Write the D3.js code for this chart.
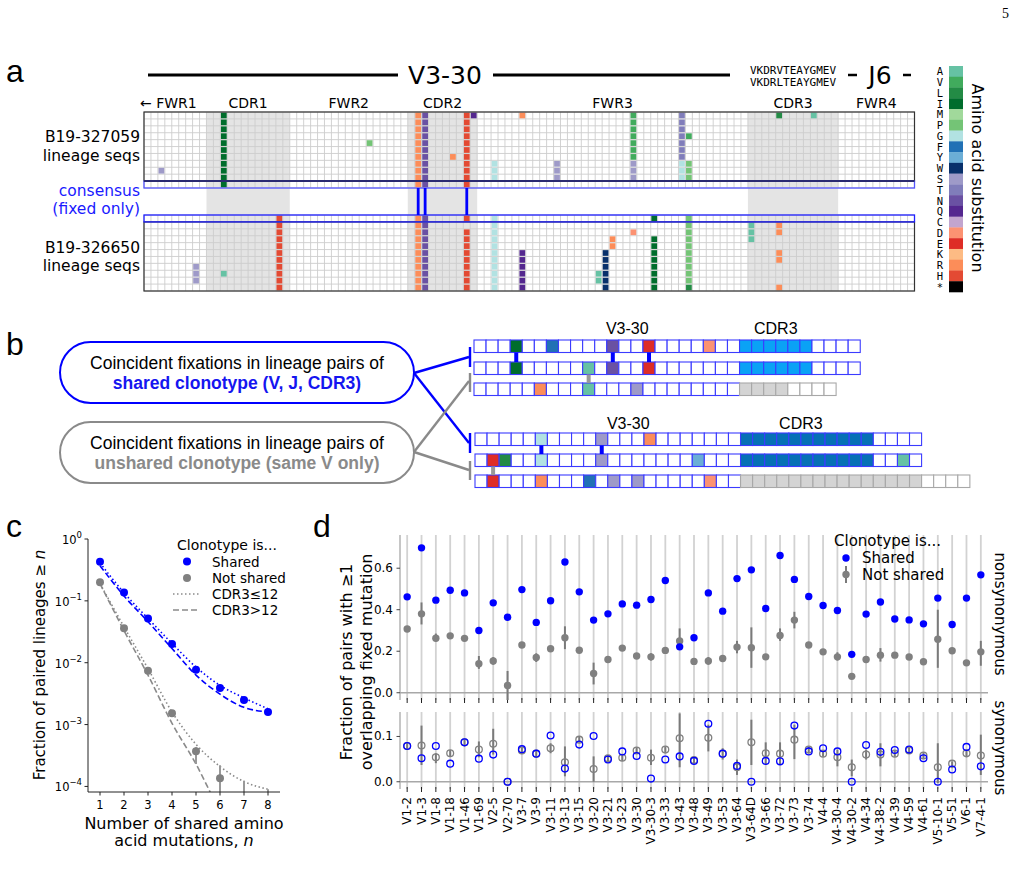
<!DOCTYPE html>
<html>
<head>
<meta charset="utf-8">
<script src="https://cdn.jsdelivr.net/npm/d3@7"></script>
<style>
  body { margin: 0; background: #fff; }
</style>
</head>
<body>
<svg id="fig" width="1023" height="896"></svg>
<script>
// ---------------- data ----------------
var aaLetters = ["A","V","L","I","M","P","G","F","Y","W","S","T","N","Q","C","D","E","K","R","H","*"];
var aaColors = ["#66c2a4","#41ab5d","#238b45","#006d2c","#a1d99b","#74c476","#b2e2e2","#2171b5","#6baed6","#08306b",
                "#9e9ac8","#807dba","#6a51a3","#54278f","#c2a5cf","#fc9272","#de2d26","#fdbb84","#fc8d59","#e34a33","#000000"];

// panel a : alignment columns and regions
var nCols = 111;
var regionNames = ["← FWR1","CDR1","FWR2","CDR2","FWR3","CDR3","FWR4"];
var regionStart = [0, 9, 21, 38, 48, 87, 100];
var regionEnd   = [9, 21, 38, 48, 87, 100, 111];
var cdrRegions = [1, 3, 5];
var lineageNames = ["B19-327059", "B19-326650"];
var cdr3Seqs = ["VKDRVTEAYGMEV", "VKDRLTEAYGMEV"];
// [column, first row, last row, amino acid]; top block rows 0-9 = seqs, row 10 = consensus
var mutsTop = [[2,8,8,"S"],[11,0,10,"I"],[32,4,4,"P"],[39,0,10,"R"],[40,0,10,"N"],[44,6,6,"R"],[46,0,10,"H"],
  [47,0,0,"Q"],[50,7,9,"G"],[54,0,0,"R"],[59,7,9,"S"],[70,0,6,"V"],[70,7,9,"S"],[77,0,6,"T"],[77,7,9,"G"],
  [78,3,3,"V"],[78,7,9,"P"],[91,0,0,"L"],[96,0,0,"A"]];
// bottom block row 0 = consensus, rows 1-10 = seqs
var mutsBottom = [[7,7,9,"S"],[11,8,8,"A"],[19,0,10,"H"],[39,0,10,"R"],[40,0,10,"N"],[46,0,0,"H"],[46,2,10,"H"],
  [50,0,10,"G"],[54,5,10,"Q"],[65,8,9,"A"],[66,5,10,"W"],[67,3,4,"R"],[70,2,2,"D"],[73,0,0,"I"],[73,3,10,"I"],
  [78,0,9,"P"],[78,10,10,"L"],[87,1,3,"A"],[91,1,2,"R"],[91,5,6,"R"],[91,10,10,"R"]];
var fixedCols = [39, 40, 46];

// panel b : schematic sequences
var bVLen = 22, bTail = 4;
var bCdr3Len = [[6, 6, 4], [11, 11, 15]];
var bCdr3Fill = [["#0aa2f5","#0aa2f5","#d4d4d4"], ["#0670b5","#0670b5","#d4d4d4"]];
var bMuts = [
  [[[3,"I"],[6,"F"],[11,"N"],[14,"E"],[19,"D"]], [[3,"I"],[9,"A"],[11,"N"],[14,"E"]], [[5,"R"],[9,"A"],[13,"S"]]],
  [[[5,"G"],[10,"S"],[14,"R"]], [[1,"E"],[2,"L"],[5,"G"],[10,"S"],[18,"Y"],[35,"A"]], [[1,"E"],[5,"R"],[9,"F"],[11,"S"],[13,"S"],[19,"D"]]]
];
var bLinks = [
  {g: 0, rows: [0, 1], cols: [3, 11, 14], shared: true},
  {g: 0, rows: [1, 2], cols: [9], shared: false},
  {g: 1, rows: [0, 1], cols: [5, 10], shared: true},
  {g: 1, rows: [1, 2], cols: [1], shared: false}
];

// panel c
var nShared = [1, 2, 3, 4, 5, 6, 7, 8];
var fracShared = [0.43, 0.137, 0.052, 0.020, 0.0077, 0.0039, 0.0025, 0.0016];
var fracNotShared = [0.20, 0.036, 0.0074, 0.00153, 0.00037, 0.000135, 0.00003, 0.00002];
var fracNotLo = [0.20, 0.036, 0.0074, 0.0014, 0.00023, 0.00005, 0.00002, 0.00001];
var fracNotHi = [0.20, 0.036, 0.0074, 0.0017, 0.00043, 0.00022, 0.000124, 0.00009];
var fitSharedShort = [0.41, 0.135, 0.052, 0.0205, 0.0085, 0.0043, 0.0027, 0.0018];
var fitSharedLong  = [0.37, 0.12, 0.046, 0.017, 0.0063, 0.0031, 0.0019, 0.0016];
var fitNotShort    = [0.19, 0.038, 0.0080, 0.0016, 0.00048, 0.00021, 0.00012, 0.00009];
var fitNotLong     = [0.19, 0.033, 0.0063, 0.00105, 0.00023, 0.00004, 0.00001, 0.000003];
var cYTicks = [1, 0.1, 0.01, 0.001, 0.0001];
var cYExp = ["0", "−1", "−2", "−3", "−4"];

// panel d
var genes = ["V1-2","V1-3","V1-8","V1-18","V1-46","V1-69","V2-5","V2-70","V3-7","V3-9","V3-11","V3-13","V3-15",
  "V3-20","V3-21","V3-23","V3-30","V3-30-3","V3-33","V3-43","V3-48","V3-49","V3-53","V3-64","V3-64D","V3-66",
  "V3-72","V3-73","V3-74","V4-4","V4-30-4","V4-30-2","V4-34","V4-38-2","V4-39","V4-59","V4-61","V5-10-1","V5-51","V6-1","V7-4-1"];
var nonsynShared = [0.462,0.698,0.446,0.494,0.481,0.300,0.433,0.364,0.497,0.339,0.443,0.630,0.486,0.350,0.380,
  0.428,0.422,0.449,0.541,0.221,0.265,0.481,0.393,0.550,0.592,0.406,0.661,0.546,0.464,0.420,0.396,0.185,0.379,
  0.437,0.355,0.351,0.332,0.456,0.329,0.456,0.568];
var nonsynNot = [0.307,0.380,0.263,0.274,0.262,0.140,0.153,0.035,0.230,0.170,0.212,0.265,0.205,0.093,0.160,
  0.215,0.177,0.173,0.204,0.249,0.151,0.153,0.165,0.220,0.217,0.173,0.276,0.350,0.230,0.197,0.173,0.079,0.160,
  0.181,0.181,0.172,0.149,0.258,0.202,0.144,0.197];
var nonsynNotLo = [0.295,0.329,0.245,0.262,0.250,0.115,0.135,-0.04,0.218,0.148,0.200,0.210,0.193,0.040,0.148,
  0.203,0.165,0.155,0.192,0.210,0.140,0.135,0.152,0.190,0.120,0.160,0.250,0.310,0.218,0.185,0.155,0.068,0.148,
  0.150,0.169,0.160,0.137,0.120,0.190,0.132,0.130];
var nonsynNotHi = [0.320,0.435,0.285,0.286,0.275,0.177,0.172,0.105,0.242,0.190,0.224,0.320,0.217,0.145,0.172,
  0.227,0.190,0.190,0.216,0.310,0.163,0.172,0.178,0.250,0.315,0.186,0.310,0.390,0.242,0.209,0.195,0.090,0.172,
  0.215,0.193,0.184,0.161,0.400,0.214,0.156,0.250];
var synShared = [0.079,0.052,0.079,0.040,0.087,0.051,0.060,0.000,0.072,0.062,0.102,0.029,0.082,0.101,0.049,
  0.067,0.057,0.007,0.049,0.056,0.046,0.128,0.062,0.035,0.000,0.046,0.045,0.124,0.067,0.074,0.067,0.000,0.081,
  0.066,0.070,0.071,0.052,0.000,0.027,0.077,0.034];
var synNot = [0.079,0.080,0.054,0.063,0.087,0.071,0.084,0.000,0.069,0.062,0.074,0.043,0.093,0.028,0.052,
  0.053,0.069,0.053,0.071,0.096,0.048,0.097,0.062,0.032,0.087,0.063,0.062,0.093,0.071,0.062,0.054,0.032,0.060,
  0.060,0.062,0.069,0.058,0.032,0.040,0.063,0.058];
var synNotLo = [0.072,0.037,0.041,0.056,0.080,0.054,0.060,0.000,0.062,0.055,0.063,0.012,0.086,0.000,0.045,
  0.046,0.062,0.037,0.064,0.032,0.041,0.067,0.049,0.015,0.037,0.037,0.037,0.050,0.064,0.055,0.034,0.012,0.049,
  0.034,0.055,0.062,0.051,-0.003,0.030,0.054,0.015];
var synNotHi = [0.086,0.124,0.063,0.070,0.094,0.089,0.117,0.000,0.076,0.069,0.085,0.078,0.100,0.056,0.059,
  0.060,0.076,0.071,0.078,0.151,0.055,0.126,0.074,0.049,0.137,0.087,0.087,0.126,0.078,0.069,0.071,0.049,0.071,
  0.085,0.069,0.076,0.065,0.085,0.045,0.071,0.104];

// ---------------- drawing ----------------
var svg = d3.select("#fig");
var mpl = "'DejaVu Sans', sans-serif";
var helv = "'Liberation Sans', Arial, sans-serif";
var mono = "'DejaVu Sans Mono', monospace";
var blue = "#0000ff";
var grey = "#808080";
var aaColor = d3.scaleOrdinal().domain(aaLetters).range(aaColors);

function txt(g, x, y, s, size, opts) {
  opts = opts || {};
  var t = g.append("text").attr("x", x).attr("y", y)
    .attr("font-family", opts.family || mpl).attr("font-size", size)
    .attr("fill", opts.fill || "#000")
    .attr("text-anchor", opts.anchor || "start")
    .attr("dominant-baseline", opts.baseline || "central");
  if (opts.weight) t.attr("font-weight", opts.weight);
  if (opts.rotate !== undefined) t.attr("transform", "rotate(" + opts.rotate + "," + x + "," + y + ")");
  t.text(s);
  return t;
}

// page number and panel letters
txt(svg, 1009, 13, "5", 14, {family: "'Liberation Serif', serif", anchor: "end"});
[["a", 6, 82], ["b", 6, 355], ["c", 6, 537], ["d", 313, 537]].forEach(function (d) {
  txt(svg, d[1], d[2], d[0], 32, {family: helv, baseline: "auto"});
});

// ============ panel a ============
var gA = svg.append("g");
var colX = d3.scaleBand().domain(d3.range(nCols)).range([144, 914.5]);
var bw = colX.bandwidth();
var rowTop = d3.scaleBand().domain(d3.range(11)).range([112, 188]);
var rowBot = d3.scaleBand().domain(d3.range(11)).range([215, 291]);
var rh = rowTop.bandwidth();

// CDR shading over full height
gA.selectAll("rect.cdr").data(cdrRegions).enter().append("rect")
  .attr("x", function (i) { return colX(regionStart[i]); })
  .attr("width", function (i) { return colX(regionEnd[i]) - colX(regionStart[i]); })
  .attr("y", 112).attr("height", 179).attr("fill", "#e4e4e4");

// grid lines for each block
[rowTop, rowBot].forEach(function (ry) {
  var y0 = ry.range()[0], y1 = ry.range()[1];
  var g = gA.append("g").attr("stroke", "#cdcdcd").attr("stroke-width", 0.9);
  g.selectAll("line.v").data(d3.range(nCols + 1)).enter().append("line")
    .attr("x1", function (c) { return 144 + c * bw; }).attr("x2", function (c) { return 144 + c * bw; })
    .attr("y1", y0).attr("y2", y1);
  g.selectAll("line.h").data(d3.range(12)).enter().append("line")
    .attr("x1", 144).attr("x2", 914.5)
    .attr("y1", function (r) { return y0 + r * rh; }).attr("y2", function (r) { return y0 + r * rh; });
});

function expand(list) {
  var out = [];
  list.forEach(function (m) {
    d3.range(m[1], m[2] + 1).forEach(function (r) { out.push({c: m[0], r: r, aa: m[3]}); });
  });
  return out;
}
[[mutsTop, rowTop], [mutsBottom, rowBot]].forEach(function (pair) {
  gA.append("g").selectAll("rect").data(expand(pair[0])).enter().append("rect")
    .attr("x", function (d) { return colX(d.c) + 0.6; })
    .attr("y", function (d) { return pair[1](d.r) + 0.6; })
    .attr("width", bw - 1.2).attr("height", rh - 1.2)
    .attr("fill", function (d) { return aaColor(d.aa); });
});

// block borders
gA.append("rect").attr("x", 144).attr("y", 112).attr("width", 770.5).attr("height", rowTop(10) - 112)
  .attr("fill", "none").attr("stroke", "#333").attr("stroke-width", 1.2);
gA.append("rect").attr("x", 144).attr("y", rowBot(1)).attr("width", 770.5).attr("height", 291 - rowBot(1))
  .attr("fill", "none").attr("stroke", "#333").attr("stroke-width", 1.2);
gA.append("rect").attr("x", 144).attr("y", rowTop(10)).attr("width", 770.5).attr("height", rh)
  .attr("fill", "none").attr("stroke", "#5555ff").attr("stroke-width", 1.3);
gA.append("line").attr("x1", 144).attr("x2", 914.5).attr("y1", rowTop(10)).attr("y2", rowTop(10))
  .attr("stroke", "#2a2a72").attr("stroke-width", 2);
gA.append("rect").attr("x", 144).attr("y", rowBot(0)).attr("width", 770.5).attr("height", rh)
  .attr("fill", "none").attr("stroke", "#2020ff").attr("stroke-width", 1.3);

// fixed shared mutations connecting consensus rows
gA.selectAll("rect.fix").data(fixedCols).enter().append("rect")
  .attr("x", function (c) { return colX(c) + bw / 2 - 1.4; }).attr("width", 2.8)
  .attr("y", 188).attr("height", 27).attr("fill", blue);

// region labels
regionNames.forEach(function (name, i) {
  if (i === 0) txt(gA, 140, 103, name, 14);
  else txt(gA, (colX(regionStart[i]) + colX(regionEnd[i] - 1) + bw) / 2, 103, name, 14, {anchor: "middle"});
});

// gene header lines
gA.append("line").attr("x1", 148).attr("x2", 398).attr("y1", 75).attr("y2", 75).attr("stroke", "#000").attr("stroke-width", 3);
gA.append("line").attr("x1", 493).attr("x2", 730).attr("y1", 75).attr("y2", 75).attr("stroke", "#000").attr("stroke-width", 3);
txt(gA, 445, 75, "V3-30", 25, {anchor: "middle"});
txt(gA, 793, 70.5, cdr3Seqs[0], 11, {family: mono, anchor: "middle"});
txt(gA, 793, 82, cdr3Seqs[1], 11, {family: mono, anchor: "middle"});
gA.append("line").attr("x1", 848).attr("x2", 857).attr("y1", 75).attr("y2", 75).attr("stroke", "#000").attr("stroke-width", 2.5);
gA.append("line").attr("x1", 903).attr("x2", 911).attr("y1", 75).attr("y2", 75).attr("stroke", "#000").attr("stroke-width", 2.5);
txt(gA, 880, 75, "J6", 25, {anchor: "middle"});

// row labels
txt(gA, 140, 137, lineageNames[0], 15.5, {anchor: "end"});
txt(gA, 140, 156, "lineage seqs", 15.5, {anchor: "end"});
txt(gA, 140, 191, "consensus", 15.5, {anchor: "end", fill: "#1a1aff"});
txt(gA, 140, 209, "(fixed only)", 15.5, {anchor: "end", fill: "#1a1aff"});
txt(gA, 140, 248, lineageNames[1], 15.5, {anchor: "end"});
txt(gA, 140, 266, "lineage seqs", 15.5, {anchor: "end"});

// colour bar legend
var cbY = d3.scaleBand().domain(aaLetters).range([66, 292]);
gA.selectAll("rect.cb").data(aaLetters).enter().append("rect")
  .attr("x", 949).attr("width", 14).attr("y", function (d) { return cbY(d); })
  .attr("height", cbY.bandwidth() + 0.3).attr("fill", function (d) { return aaColor(d); });
aaLetters.forEach(function (a) {
  txt(gA, 940, cbY(a) + cbY.bandwidth() / 2, a, 10.5, {family: mono, anchor: "middle"});
});
txt(gA, 977, 178, "Amino acid substitution", 16, {anchor: "middle", rotate: 90});

// ============ panel b ============
var gB = svg.append("g");
var bGroupX = [474, 475];
var bRowY = [[340, 362, 383], [433, 454, 475]];
var bcw = 12.07, bch = 12.5;

function bx(g, c) { return bGroupX[g] + c * bcw; }

bCdr3Len.forEach(function (lens, g) {
  lens.forEach(function (len, r) {
    var unshared = (r === 2);
    var total = bVLen + len + bTail;
    var mm = {};
    bMuts[g][r].forEach(function (m) { mm[m[0]] = m[1]; });
    var cells = d3.range(total).map(function (c) {
      var fill = "#fff";
      if (c >= bVLen && c < bVLen + len) fill = bCdr3Fill[g][r];
      if (mm[c]) fill = aaColor(mm[c]);
      var stroke = (unshared && c >= bVLen) ? "#a8a8a8" : "#3b3bff";
      return {c: c, fill: fill, stroke: stroke};
    });
    gB.append("g").selectAll("rect").data(cells).enter().append("rect")
      .attr("x", function (d) { return bx(g, d.c); }).attr("y", bRowY[g][r])
      .attr("width", bcw).attr("height", bch)
      .attr("fill", function (d) { return d.fill; })
      .attr("stroke", function (d) { return d.stroke; }).attr("stroke-width", 1.1);
  });
});

bLinks.forEach(function (L) {
  gB.append("g").selectAll("rect").data(L.cols).enter().append("rect")
    .attr("x", function (c) { return bx(L.g, c) + bcw / 2 - 2; }).attr("width", 4)
    .attr("y", bRowY[L.g][L.rows[0]] + bch).attr("height", bRowY[L.g][L.rows[1]] - bRowY[L.g][L.rows[0]] - bch)
    .attr("fill", L.shared ? blue : "#999");
});

txt(gB, bx(0, 12.7), 328, "V3-30", 16, {family: helv, anchor: "middle"});
txt(gB, bx(0, 25), 328, "CDR3", 16, {family: helv, anchor: "middle"});
txt(gB, bx(1, 12.7), 423, "V3-30", 16, {family: helv, anchor: "middle"});
txt(gB, bx(1, 27), 423, "CDR3", 16, {family: helv, anchor: "middle"});

// pills
[[342, blue, "shared clonotype (V, J, CDR3)", "#1515f0"], [422, "#8a8a8a", "unshared clonotype (same V only)", "#8a8a8a"]].forEach(function (p) {
  gB.append("rect").attr("x", 60).attr("y", p[0]).attr("width", 354).attr("height", 61).attr("rx", 30.5)
    .attr("fill", "#fff").attr("stroke", p[1]).attr("stroke-width", 2);
  txt(gB, 237, p[0] + 21, "Coincident fixations in lineage pairs of", 17.5, {family: helv, anchor: "middle"});
  txt(gB, 237, p[0] + 41, p[2], 17.5, {family: helv, anchor: "middle", weight: "bold", fill: p[3]});
});
// connectors and brackets
var bLinesData = [
  [414, 373, 469, 357, blue], [414, 373, 469, 443, blue],
  [414, 452, 469, 381, "#8a8a8a"], [414, 452, 469, 470, "#8a8a8a"]
];
gB.selectAll("line.conn").data(bLinesData).enter().append("line")
  .attr("x1", function (d) { return d[0]; }).attr("y1", function (d) { return d[1]; })
  .attr("x2", function (d) { return d[2]; }).attr("y2", function (d) { return d[3]; })
  .attr("stroke", function (d) { return d[4]; }).attr("stroke-width", 2.4);
[[347, 367, blue], [373, 392, "#8a8a8a"], [433, 453, blue], [461, 480, "#8a8a8a"]].forEach(function (b) {
  gB.append("line").attr("x1", 470).attr("x2", 470).attr("y1", b[0]).attr("y2", b[1])
    .attr("stroke", b[2]).attr("stroke-width", 2.4);
});

// ============ panel c ============
var gC = svg.append("g");
var cx = d3.scaleLinear().domain([0.5, 8.5]).range([88, 280]);
var cy = d3.scaleLog().domain([Math.pow(10, -4.09), 1]).range([792, 539]);
svg.append("defs").append("clipPath").attr("id", "clipC")
  .append("rect").attr("x", 88).attr("y", 539).attr("width", 192).attr("height", 253);

var plotC = gC.append("g").attr("clip-path", "url(#clipC)");
var lineC = d3.line().x(function (d) { return cx(d[0]); }).y(function (d) { return cy(d[1]); }).curve(d3.curveMonotoneX);
[[fitNotShort, "#8a8a8a", "1.5,2.5"], [fitNotLong, "#8a8a8a", "6,3"], [fitSharedShort, blue, "1.5,2.5"], [fitSharedLong, blue, "6,3"]]
  .forEach(function (f) {
    plotC.append("path").datum(nShared.map(function (n, i) { return [n, f[0][i]]; }))
      .attr("d", lineC).attr("fill", "none").attr("stroke", f[1]).attr("stroke-width", 1.6)
      .attr("stroke-dasharray", f[2]);
  });
plotC.selectAll("line.err").data(nShared).enter().append("line")
  .attr("x1", function (n) { return cx(n); }).attr("x2", function (n) { return cx(n); })
  .attr("y1", function (n, i) { return cy(fracNotLo[i]); }).attr("y2", function (n, i) { return cy(fracNotHi[i]); })
  .attr("stroke", "#999").attr("stroke-width", 2);
plotC.selectAll("circle.ns").data(nShared).enter().append("circle")
  .attr("cx", function (n) { return cx(n); }).attr("cy", function (n, i) { return cy(fracNotShared[i]); })
  .attr("r", 4).attr("fill", grey);
plotC.selectAll("circle.sh").data(nShared).enter().append("circle")
  .attr("cx", function (n) { return cx(n); }).attr("cy", function (n, i) { return cy(fracShared[i]); })
  .attr("r", 4).attr("fill", blue);

// axes c
gC.append("line").attr("x1", 88).attr("x2", 88).attr("y1", 539).attr("y2", 792).attr("stroke", "#222").attr("stroke-width", 1);
gC.append("line").attr("x1", 88).attr("x2", 280).attr("y1", 792).attr("y2", 792).attr("stroke", "#222").attr("stroke-width", 1);
nShared.forEach(function (n) {
  gC.append("line").attr("x1", cx(n)).attr("x2", cx(n)).attr("y1", 792).attr("y2", 795.5).attr("stroke", "#222");
  txt(gC, cx(n), 805, String(n), 11.5, {anchor: "middle"});
});
cYTicks.forEach(function (v, i) {
  gC.append("line").attr("x1", 84.5).attr("x2", 88).attr("y1", cy(v)).attr("y2", cy(v)).attr("stroke", "#222");
  var t = txt(gC, 82, cy(v) + 1, "", 11.5, {anchor: "end"});
  t.append("tspan").text("10");
  t.append("tspan").attr("dy", -5).attr("font-size", 8.5).text(cYExp[i]);
});
var cyl = txt(gC, 40, 665, "Fraction of paired lineages ≥ ", 15, {anchor: "middle", rotate: -90});
cyl.append("tspan").attr("font-style", "italic").text("n");
txt(gC, 184, 823, "Number of shared amino", 16, {anchor: "middle"});
var cxl = txt(gC, 184, 840, "acid mutations, ", 16, {anchor: "middle"});
cxl.append("tspan").attr("font-style", "italic").text("n");

// legend c
txt(gC, 177, 545, "Clonotype is...", 14);
gC.append("circle").attr("cx", 187).attr("cy", 561.5).attr("r", 4).attr("fill", blue);
txt(gC, 212, 561.5, "Shared", 13.5);
gC.append("circle").attr("cx", 187).attr("cy", 578).attr("r", 4).attr("fill", grey);
txt(gC, 212, 578, "Not shared", 13.5);
gC.append("line").attr("x1", 173).attr("x2", 200).attr("y1", 594).attr("y2", 594).attr("stroke", "#8a8a8a")
  .attr("stroke-width", 1.6).attr("stroke-dasharray", "1.5,2.5");
txt(gC, 212, 594, "CDR3≤12", 13.5);
gC.append("line").attr("x1", 173).attr("x2", 200).attr("y1", 610).attr("y2", 610).attr("stroke", "#8a8a8a")
  .attr("stroke-width", 1.6).attr("stroke-dasharray", "6,3");
txt(gC, 212, 610, "CDR3>12", 13.5);

// ============ panel d ============
var gD = svg.append("g");
var dx = d3.scalePoint().domain(genes).range([400, 988]).padding(0.5);
var yNon = d3.scaleLinear().domain([-0.035, 0.76]).range([700, 535]);
var ySyn = d3.scaleLinear().domain([-0.016, 0.154]).range([789, 712]);

[[yNon, [0, 0.2, 0.4, 0.6]], [ySyn, [0, 0.1]]].forEach(function (ax) {
  var y = ax[0], y0 = y.range()[0], y1 = y.range()[1];
  var g = gD.append("g");
  g.selectAll("line.grid").data(genes).enter().append("line")
    .attr("x1", function (d) { return dx(d); }).attr("x2", function (d) { return dx(d); })
    .attr("y1", y1).attr("y2", y0).attr("stroke", "#d2d2d2").attr("stroke-width", 1.8);
  g.append("line").attr("x1", 400).attr("x2", 400).attr("y1", y1).attr("y2", y0).attr("stroke", "#a0a0a0").attr("stroke-width", 1.2);
  g.append("line").attr("x1", 400).attr("x2", 988).attr("y1", y(0)).attr("y2", y(0)).attr("stroke", "#a8a8a8").attr("stroke-width", 1.6);
  g.selectAll("line.xt").data(genes).enter().append("line")
    .attr("x1", function (d) { return dx(d); }).attr("x2", function (d) { return dx(d); })
    .attr("y1", y0 - 2).attr("y2", y0 + 3).attr("stroke", "#222").attr("stroke-width", 1);
  ax[1].forEach(function (v) {
    g.append("line").attr("x1", 396.5).attr("x2", 400).attr("y1", y(v)).attr("y2", y(v)).attr("stroke", "#444");
    txt(g, 393, y(v), d3.format(".1f")(v), 12, {anchor: "end"});
  });
});

// nonsynonymous
gD.selectAll("line.nerr").data(genes).enter().append("line")
  .attr("x1", function (d) { return dx(d); }).attr("x2", function (d) { return dx(d); })
  .attr("y1", function (d, i) { return yNon(Math.max(nonsynNotLo[i], -0.035)); })
  .attr("y2", function (d, i) { return yNon(nonsynNotHi[i]); })
  .attr("stroke", "#7a7a7a").attr("stroke-width", 2);
gD.selectAll("circle.nn").data(genes).enter().append("circle")
  .attr("cx", function (d) { return dx(d); }).attr("cy", function (d, i) { return yNon(nonsynNot[i]); })
  .attr("r", 3.7).attr("fill", grey);
gD.selectAll("circle.ns").data(genes).enter().append("circle")
  .attr("cx", function (d) { return dx(d); }).attr("cy", function (d, i) { return yNon(nonsynShared[i]); })
  .attr("r", 3.7).attr("fill", blue);

// synonymous
gD.selectAll("line.serr").data(genes).enter().append("line")
  .attr("x1", function (d) { return dx(d); }).attr("x2", function (d) { return dx(d); })
  .attr("y1", function (d, i) { return ySyn(Math.max(synNotLo[i], -0.016)); })
  .attr("y2", function (d, i) { return ySyn(synNotHi[i]); })
  .attr("stroke", "#7a7a7a").attr("stroke-width", 2);
gD.selectAll("circle.sn").data(genes).enter().append("circle")
  .attr("cx", function (d) { return dx(d); }).attr("cy", function (d, i) { return ySyn(synNot[i]); })
  .attr("r", 3.4).attr("fill", "none").attr("stroke", grey).attr("stroke-width", 1.3);
gD.selectAll("circle.ss").data(genes).enter().append("circle")
  .attr("cx", function (d) { return dx(d); }).attr("cy", function (d, i) { return ySyn(synShared[i]); })
  .attr("r", 3.4).attr("fill", "none").attr("stroke", blue).attr("stroke-width", 1.3);

// gene labels
genes.forEach(function (gname) {
  txt(gD, dx(gname), 797, gname, 12, {anchor: "end", rotate: -90});
});

txt(gD, 346, 662, "Fraction of pairs with ≥1", 16, {anchor: "middle", rotate: -90});
txt(gD, 366, 662, "overlapping fixed mutation", 16, {anchor: "middle", rotate: -90});
txt(gD, 1000, 614, "nonsynonymous", 15, {anchor: "middle", rotate: 90});
txt(gD, 1000, 748, "synonymous", 15, {anchor: "middle", rotate: 90});

// legend d
txt(gD, 834, 541, "Clonotype is...", 15);
gD.append("circle").attr("cx", 846).attr("cy", 558).attr("r", 3.7).attr("fill", blue);
txt(gD, 862, 558, "Shared", 15);
gD.append("line").attr("x1", 846).attr("x2", 846).attr("y1", 566).attr("y2", 583).attr("stroke", "#7a7a7a").attr("stroke-width", 2);
gD.append("circle").attr("cx", 846).attr("cy", 574.5).attr("r", 3.7).attr("fill", grey);
txt(gD, 862, 574.5, "Not shared", 15);
</script>
</body>
</html>
